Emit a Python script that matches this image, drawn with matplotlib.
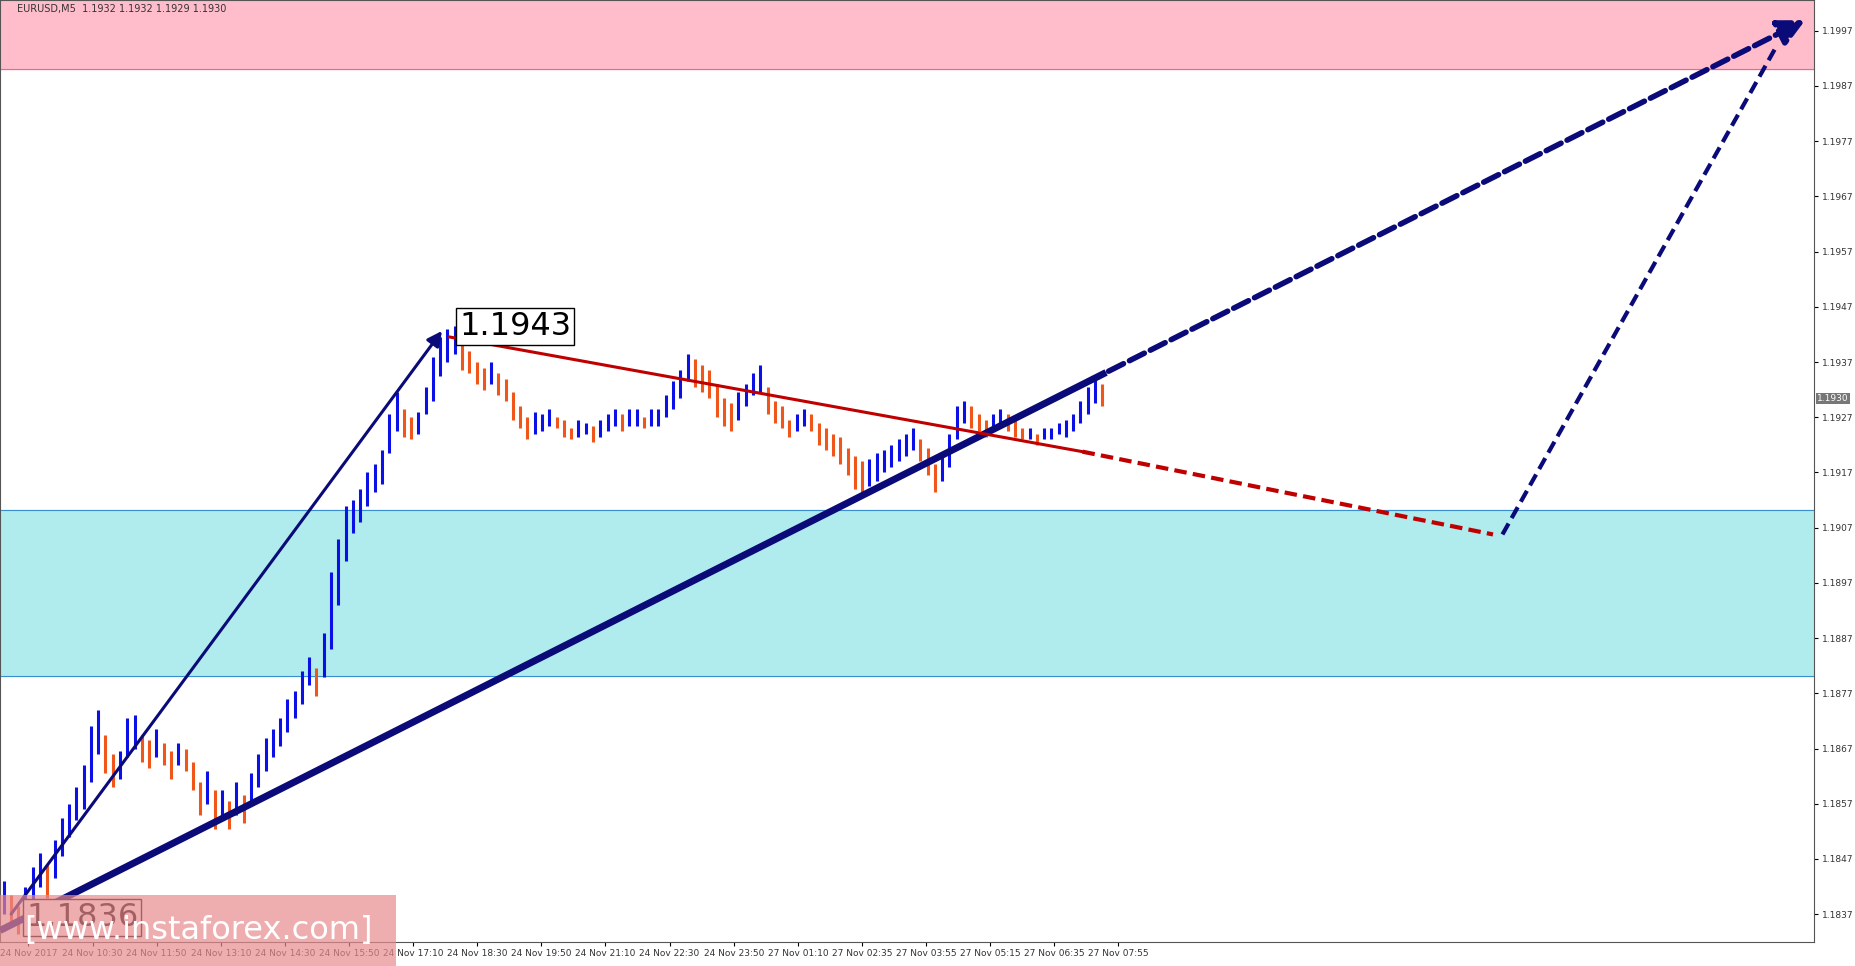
import matplotlib
matplotlib.use("Agg")
import matplotlib.pyplot as plt
import numpy as np

mids = [1.1840,1.1838,1.1836,1.1839, 1.1842,1.1845,1.1843,1.1847,
        1.1851,1.1854,1.1857,1.1860,1.1866,1.1870, 1.1866,1.1863,1.1864,
        1.1869,1.1870,1.1867,1.1866,1.1868,1.1866,1.1864, 1.1866,1.1865,1.1862,1.1858,
        1.1860,1.1856,1.1857,1.1855,1.1858,1.1856, 1.1860,1.1863,1.1866,
        1.1868,1.1870,1.1873,1.1875,1.1878,1.1881,1.1879,
        1.1884,1.1892,1.1899,1.1906,1.1909, 1.1911,1.1914,1.1916,1.1918,1.1924,
        1.1928,1.1926,1.1925,1.1926,1.1930, 1.1934,1.1938,1.1940,1.1941,1.1938,
        1.1937,1.1935,1.1934,1.1935,1.1933, 1.1932,1.1929,1.1927,1.1925,1.1926,
        1.1926,1.1927,1.1926,1.1925,1.1924,1.1925,1.1925,1.1924,1.1925,1.1926,1.1927,
        1.1926,1.1927,1.1927,1.1926,1.1927,1.1927,1.1929,1.1931,
        1.1933,1.1936,1.1935,1.1934,1.1933,1.1930, 1.1928,1.1927,1.1929,1.1931,1.1933,1.1934,
        1.1930,1.1928,1.1927,1.1925,1.1926,1.1927,1.1926,1.1924,
        1.1923,1.1922,1.1921,1.1919,1.1917, 1.1916,1.1917,1.1918,1.1919,1.1920,1.1921,
        1.1922,1.1923,1.1921,1.1919,1.1916, 1.1918,1.1921,1.1926,1.1928,1.1927,
        1.1926,1.1925,1.1926,1.1927,1.1926,1.1925,1.1924,1.1924,
        1.1923,1.1924,1.1924,1.1925,1.1925,1.1926, 1.1928,1.1930,1.1932,1.1931]
ranges = [6,5,5,6, 7,6,6,7, 7,6,6,8,10,8, 7,6,5,
          7,6,5,5,5,4,5, 4,4,5,6, 6,7,5,5,6,5, 5,6,6,
          5,5,6,5,6,5,5, 8,14,12,10,6, 6,6,5,6,7,
          7,5,4,4,5, 8,7,6,5,5, 4,4,4,4,4, 4,5,4,4,4,
          3,3,2,3,2,3,2,3,3,3,3, 3,3,3,2,3,3,4,5,
          5,5,5,5,5,6, 5,5,5,4,4,5, 5,4,4,3,3,3,3,4,
          4,4,5,5,6, 6,5,5,4,4,4, 4,4,4,5,5, 5,6,6,4,4,
          3,3,3,3,3,3,2,2, 2,2,2,2,3,3, 4,5,5,4]
xlabels = ["24 Nov 2017","24 Nov 10:30","24 Nov 11:50","24 Nov 13:10","24 Nov 14:30",
           "24 Nov 15:50","24 Nov 17:10","24 Nov 18:30","24 Nov 19:50","24 Nov 21:10",
           "24 Nov 22:30","24 Nov 23:50","27 Nov 01:10","27 Nov 02:35","27 Nov 03:55",
           "27 Nov 05:15","27 Nov 06:35","27 Nov 07:55"]
yticks = [1.1837,1.1847,1.1857,1.1867,1.1877,1.1887,1.1897,1.1907,1.1917,1.1927,
          1.1937,1.1947,1.1957,1.1967,1.1977,1.1987,1.1997]

PX = 6.15  # reference pixels per bar
def bx(px): return px / PX
def py(y): return 1.1997 - (y - 26) / 46700.0

fig = plt.figure(figsize=(18.55, 9.66), dpi=100)
W, H = 1568.0, 817.0
ax = fig.add_axes([0, 20/H, 1533/W, 797/H])
ax.set_xlim(0, bx(1533))
ax.set_ylim(py(797), py(0))

ax.axhspan(py(58), py(0), color="#ffbccb", zorder=0)
ax.axhline(py(58), color="#e0707f", lw=0.8)
ax.axhspan(py(572), py(431), color="#b0ebed", zorder=0)
ax.axhline(py(572), color="#3a8fd0", lw=0.8)
ax.axhline(py(431), color="#3a8fd0", lw=0.8)

n = len(mids)
xs = np.arange(n) + 0.5
for i in range(n):
    up = i == 0 or mids[i] >= mids[i-1]
    c = "#0a10e6" if up else "#f0561a"
    h = ranges[i] * 0.0001 / 2
    ax.vlines(xs[i], mids[i]-h, mids[i]+h, color=c, lw=2.2, zorder=3)

nav = "#0a0a78"
red = "#c00000"
ax.annotate("", xy=(bx(375), py(278)), xytext=(bx(8), py(775)),
            arrowprops=dict(arrowstyle="-|>", color=nav, lw=2.2, mutation_scale=22), zorder=5)
ax.plot([bx(0), bx(935)], [py(787), py(315)], color=nav, lw=5, zorder=5, solid_capstyle="butt")
ax.annotate("", xy=(bx(1528), py(16)), xytext=(bx(935), py(315)),
            arrowprops=dict(arrowstyle="-|>", color=nav, lw=4, ls=(0, (3, 1.2)), mutation_scale=40), zorder=5)
ax.plot([bx(380), bx(915)], [py(285), py(382)], color=red, lw=2.2, zorder=5)
ax.plot([bx(915), bx(1262)], [py(382), py(452)], color=red, lw=3, ls=(0, (3, 1.5)), zorder=5)
ax.plot([bx(1270), bx(1500)], [py(452), py(42)], color=nav, lw=3, ls=(0, (3, 1.5)), zorder=5)

bbox = dict(boxstyle="square,pad=0.1", fc="white", ec="black", lw=1)
ax.text(bx(388), py(276), "1.1943", fontsize=23, va="center", ha="left", bbox=bbox, zorder=6)
ax.text(bx(22), py(776), "1.1836", fontsize=23, va="center", ha="left", bbox=bbox, zorder=6)

fig.patches.append(plt.Rectangle((0, 0), 335/W, 60/H, transform=fig.transFigure,
                                 fc="#e88a8e", ec="none", alpha=0.7, zorder=10))
fig.text(168/W, 30/H, "[www.instaforex.com]", color="white", fontsize=23,
         ha="center", va="center", zorder=11)

ax.text(bx(14), py(8), "EURUSD,M5  1.1932 1.1932 1.1929 1.1930", fontsize=7, color="#333", va="center")

ax.yaxis.tick_right()
ax.set_yticks(yticks)
ax.set_yticklabels([f"{v:.4f}" for v in yticks], fontsize=6.5, color="#333")
ax.tick_params(axis="y", length=3, pad=3)
ax.set_xticks([bx(24 + 54.2*i) for i in range(len(xlabels))])
ax.set_xticklabels(xlabels, fontsize=6.5, color="#333")
ax.tick_params(axis="x", length=3, pad=2)
ax.text(1.002, py(337), "1.1930", transform=ax.get_yaxis_transform(), fontsize=6.5,
        color="white", va="center", bbox=dict(boxstyle="square,pad=0.15", fc="#777", ec="none"))
for s in ax.spines.values():
    s.set_color("#555")
fig.savefig("out.png", dpi=100)
